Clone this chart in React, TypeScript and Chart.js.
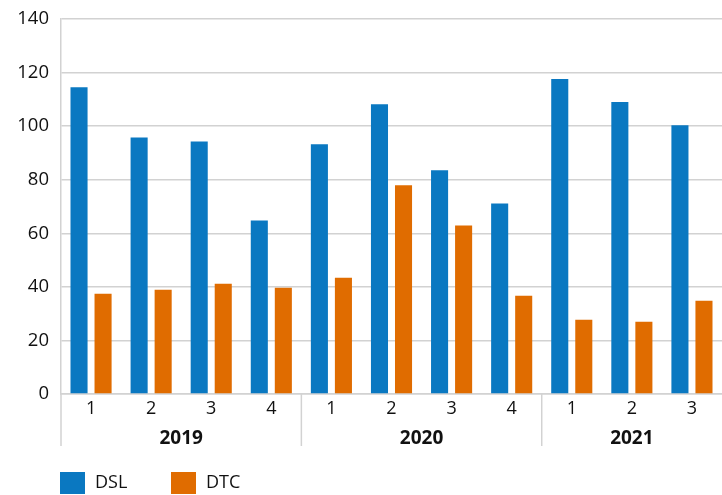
import React, { useEffect, useRef } from "react";
import { Chart, registerables } from "chart.js";

Chart.register(...registerables);

const quarters = ["1", "2", "3", "4", "1", "2", "3", "4", "1", "2", "3"];
const years = ["2019", "2020", "2021"];
const quartersPerYear = [4, 4, 3];
const dslValues = [114.5, 95.8, 94.3, 64.8, 93.2, 108.2, 83.5, 71.1, 117.6, 109, 100.3];
const dtcValues = [37.4, 38.9, 41.2, 39.7, 43.4, 77.9, 62.9, 36.7, 27.7, 27, 34.8];

const BLUE = "#0a78c1";
const ORANGE = "#e06c00";
const GRID = "#d2d2d2";
const TEXT = "#111";
const FONT = "'Open Sans', 'Noto Sans', sans-serif";

const yearPlugin = {
  id: "yearGroups",
  afterDraw(chart: any) {
    const x = chart.scales.x;
    const ctx = chart.ctx;
    const area = chart.chartArea;
    const half = (x.getPixelForValue(1) - x.getPixelForValue(0)) / 2;
    ctx.save();
    ctx.strokeStyle = GRID;
    ctx.lineWidth = 1.5;
    ctx.fillStyle = TEXT;
    ctx.font = `bold 19px ${FONT}`;
    ctx.textAlign = "center";
    ctx.textBaseline = "middle";
    let idx = 0;
    years.forEach((yr, g) => {
      const n = quartersPerYear[g];
      const left = x.getPixelForValue(idx) - half;
      const right = x.getPixelForValue(idx + n - 1) + half;
      ctx.beginPath();
      ctx.moveTo(left, area.bottom);
      ctx.lineTo(left, area.bottom + 52);
      ctx.stroke();
      ctx.fillText(yr, (left + right) / 2, area.bottom + 45);
      idx += n;
    });

    // legend
    ctx.font = `18px ${FONT}`;
    ctx.textAlign = "left";
    let lx = area.left - 1;
    const ly = chart.height - 23;
    chart.data.datasets.forEach((ds: any) => {
      ctx.fillStyle = ds.backgroundColor;
      ctx.fillRect(lx, ly, 25, 22);
      ctx.fillStyle = TEXT;
      ctx.fillText(ds.label, lx + 35, ly + 11);
      lx += 111;
    });
    ctx.restore();
  },
};

export default function App() {
  const ref = useRef<HTMLCanvasElement | null>(null);
  useEffect(() => {
    document.body.style.margin = "0";
    const chart = new Chart(ref.current as HTMLCanvasElement, {
      type: "bar",
      data: {
        labels: quarters,
        datasets: [
          { label: "DSL", data: dslValues, backgroundColor: BLUE },
          { label: "DTC", data: dtcValues, backgroundColor: ORANGE },
        ],
      },
      options: {
        animation: false,
        responsive: false,
        maintainAspectRatio: false,
        datasets: { bar: { categoryPercentage: 0.8, barPercentage: 0.71 } } as any,
        layout: { padding: { top: 0, right: 0, left: 0, bottom: 49 } },
        plugins: {
          tooltip: { enabled: false },
          legend: { display: false },
        },
        scales: {
          x: {
            grid: { display: false, drawTicks: false },
            border: { color: GRID, width: 1.5 },
            ticks: { color: TEXT, font: { family: FONT, size: 18 }, padding: 4 },
            afterFit(scale: any) {
              scale.height = 52;
            },
          },
          y: {
            min: 0,
            max: 140,
            ticks: { stepSize: 20, color: TEXT, font: { family: FONT, size: 18.5 }, padding: 12 },
            grid: { color: GRID, lineWidth: 1.5, drawTicks: false },
            border: { color: GRID, width: 1.5 },
            afterFit(scale: any) {
              scale.width = 61;
              scale.paddingTop = 19;
              scale.paddingBottom = 0;
            },
          },
        },
      },
      plugins: [yearPlugin],
    });
    return () => chart.destroy();
  }, []);
  return <canvas ref={ref} width={722} height={495} style={{ display: "block" }} />;
}
